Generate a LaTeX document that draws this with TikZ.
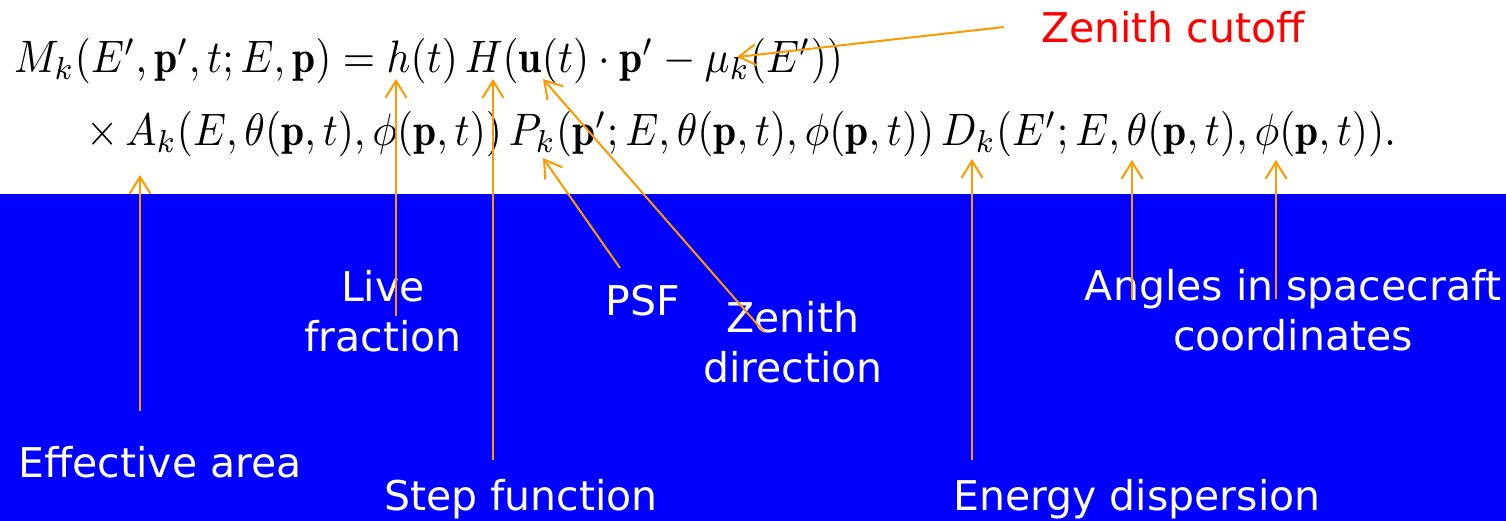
\documentclass[tikz,border=0pt]{standalone}
\usepackage{fontspec}
\newfontfamily\labelfont{DejaVu Sans}
\usetikzlibrary{arrows.meta}
\definecolor{bgblue}{RGB}{0,0,255}
\definecolor{arrorange}{RGB}{255,153,0}
\definecolor{cutred}{RGB}{255,0,0}
\newcommand{\eqscale}[1]{\scalebox{4.15}[4.55]{\normalsize #1}}
\tikzset{
  lbl/.style={text=white, font=\labelfont\fontsize{41}{50}\selectfont, align=center, inner sep=0pt, anchor=base},
  ptr/.style={draw=arrorange, line width=2pt, -{Straight Barb[length=17pt,width=21pt]}},
  eqn/.style={inner sep=0pt, anchor=base west},
}
\begin{document}
\begin{tikzpicture}[x=1pt,y=-1pt]
\useasboundingbox (0,0) rectangle (1506,521);
\fill[white] (0,0) rectangle (1506,194);
\fill[bgblue] (0,194) rectangle (1506,521);

% equation
\node[eqn] (eq1) at (14,73) {\eqscale{$M_k(E',\mathbf{p}',t;E,\mathbf{p}) = h(t)\,H(\mathbf{u}(t)\cdot\mathbf{p}'-\mu_k(E'))$}};
\node[eqn] (eq2) at (86,146) {\eqscale{$\times\, A_k(E,\theta(\mathbf{p},t),\phi(\mathbf{p},t))\,P_k(\mathbf{p}';E,\theta(\mathbf{p},t),\phi(\mathbf{p},t))\,D_k(E';E,\theta(\mathbf{p},t),\phi(\mathbf{p},t)).$}};

% labels
\node[lbl] (ea) at (160,477) {Effective area};
\node[lbl] (lf) at (383,351) {Live\\fraction};
\node[lbl] (sf) at (521,510) {Step function};
\node[lbl] (psf) at (643,315) {PSF};
\node[lbl] (zd) at (793,382) {Zenith\\direction};
\node[lbl] (ed) at (1137,510) {Energy dispersion};
\node[lbl] (ang) at (1293,350) {Angles in spacecraft\\coordinates};
\node[lbl, text=cutred] (zc) at (1173,43) {Zenith cutoff};

% arrow ends
\coordinate (eaT) at (140,411);  \coordinate (eaH) at (140,175);
\coordinate (lfT) at (396,316);  \coordinate (lfH) at (396,79);
\coordinate (sfT) at (493,460);  \coordinate (sfH) at (493,79);
\coordinate (psfT) at (620,268); \coordinate (psfH) at (543,158);
\coordinate (zdT) at (764,332);  \coordinate (zdH) at (543,79);
\coordinate (zcT) at (1004,27);  \coordinate (zcH) at (737,57);
\coordinate (edT) at (972,460);  \coordinate (edH) at (972,159);
\coordinate (thT) at (1132,299); \coordinate (thH) at (1132,160);
\coordinate (phT) at (1276,299); \coordinate (phH) at (1276,160);

\draw[ptr] (eaT) -- (eaH);
\draw[ptr] (lfT) -- (lfH);
\draw[ptr] (sfT) -- (sfH);
\draw[ptr] (psfT) -- (psfH);
\draw[ptr] (zdT) -- (zdH);
\draw[ptr] (zcT) -- (zcH);
\draw[ptr] (edT) -- (edH);
\draw[ptr] (thT) -- (thH);
\draw[ptr] (phT) -- (phH);
\end{tikzpicture}
\end{document}
